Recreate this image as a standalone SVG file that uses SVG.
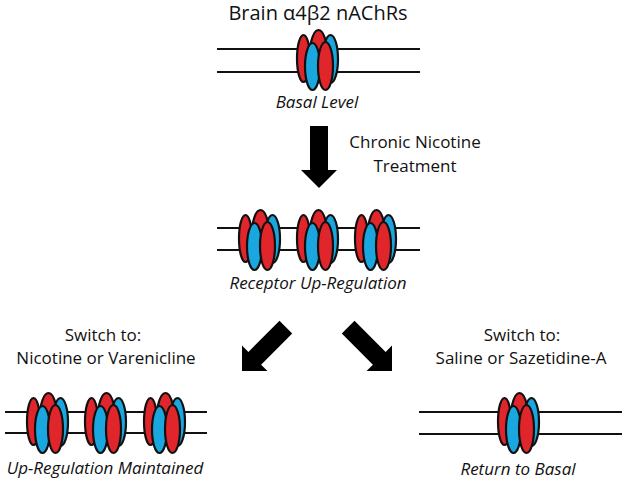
<svg xmlns="http://www.w3.org/2000/svg" xmlns:xlink="http://www.w3.org/1999/xlink" width="622" height="481" viewBox="0 0 622 481">
<style>
.t{font-family:"Open Sans","Liberation Sans",sans-serif;font-size:17px;fill:#111;text-anchor:middle}
.i{font-style:italic}
.r{fill:#e0262b;stroke:#111;stroke-width:2.2}
.b{fill:#1aa7e0;stroke:#111;stroke-width:2.2}
.m{stroke:#111;stroke-width:2;fill:none}
.a{fill:#000}
</style>
<defs>
<g id="rec">
<ellipse class="r" cx="-14.5" cy="-1.5" rx="6.5" ry="23.5"/>
<ellipse class="r" cx="0.5" cy="-6" rx="8.5" ry="24"/>
<ellipse class="b" cx="12.5" cy="-1" rx="7.5" ry="24"/>
<ellipse class="b" cx="-5.5" cy="6.5" rx="7.5" ry="23.5"/>
<ellipse class="r" cx="7.5" cy="6" rx="7.5" ry="24"/>
</g>
<polygon id="arr" points="-9,-62 9,-62 9,-18 18,-18 0,0 -18,-18 -9,-18"/>
</defs>
<g id="membranes">
<path class="m" d="M217 49H420M217 72H420"/>
<path class="m" d="M217 228H420M217 250H420"/>
<path class="m" d="M5 412H207M5 433H207"/>
<path class="m" d="M419 412H622M419 434H622"/>
</g>
<g id="basal"><use xlink:href="#rec" x="318" y="60"/></g>
<g id="upreg"><use xlink:href="#rec" x="260" y="240"/><use xlink:href="#rec" x="318" y="240"/><use xlink:href="#rec" x="376" y="240"/></g>
<g id="maintained"><use xlink:href="#rec" x="48" y="423"/><use xlink:href="#rec" x="106" y="423"/><use xlink:href="#rec" x="165" y="423"/></g>
<g id="return"><use xlink:href="#rec" x="519" y="423"/></g>
<g id="connectors" class="a">
<use xlink:href="#arr" transform="translate(319,188)"/>
<use xlink:href="#arr" transform="translate(242,371) rotate(45)"/>
<use xlink:href="#arr" transform="translate(392,371) rotate(-45)"/>
</g>
<g id="labels">
<text class="t" x="318" y="20" style="font-size:20px">Brain α4β2 nAChRs</text>
<text class="t i" x="317" y="108">Basal Level</text>
<text class="t" x="415" y="148">Chronic Nicotine</text>
<text class="t" x="415" y="172">Treatment</text>
<text class="t i" x="318" y="289">Receptor Up-Regulation</text>
<text class="t" x="103" y="341">Switch to:</text>
<text class="t" x="106" y="364">Nicotine or Varenicline</text>
<text class="t" x="522" y="341">Switch to:</text>
<text class="t" x="521" y="364">Saline or Sazetidine-A</text>
<text class="t i" x="105" y="474">Up-Regulation Maintained</text>
<text class="t i" x="518" y="475">Return to Basal</text>
</g>
</svg>
